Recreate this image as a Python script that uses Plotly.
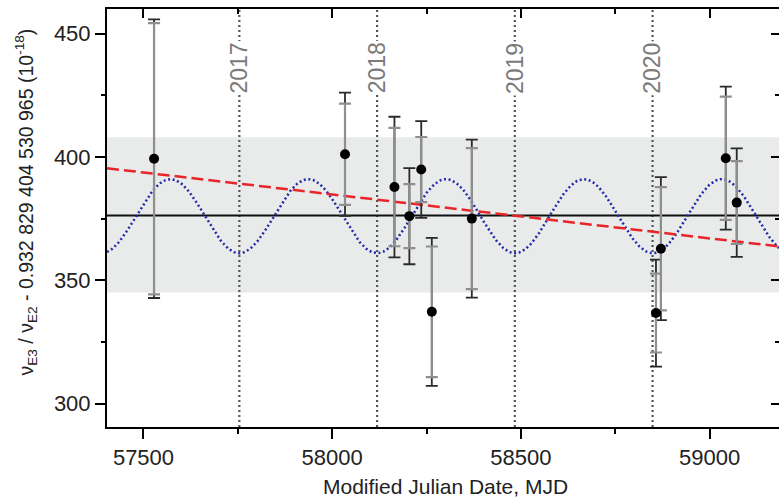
import numpy as np
import plotly.graph_objects as go

# Measurement epochs (MJD), frequency-ratio offsets (1e-18) and their uncertainties
mjd = [57528, 58034, 58165, 58204.5, 58236, 58264, 58370, 58858, 58871, 59043, 59072]
ratio = [399.3, 401.1, 387.8, 376.0, 394.9, 337.2, 375.0, 336.7, 362.8, 399.5, 381.5]
err_stat = [55.0, 20.5, 24.0, 13.0, 13.2, 26.5, 28.6, 16.0, 25.0, 25.0, 16.8]
err_total = [56.5, 25.0, 28.5, 19.5, 19.6, 30.0, 32.0, 21.7, 29.0, 29.0, 22.0]

# Weighted mean and its scatter band
mean_value = 376.3
band_low, band_high = 345.0, 408.0

# Annual modulation model (minimum at each new year)
mod_mean = 376.0
mod_amplitude = 15.0
mod_period = 365.25
mod_phase_mjd = 57754

# Linear drift model
drift_ref_mjd = 58500
drift_at_ref = 375.9
drift_slope = -0.0178  # per day

# Year boundaries
year_labels = ["2017", "2018", "2019", "2020"]
year_mjd = [57754, 58119, 58484, 58849]

x_range = [57403.3, 59184]
y_range = [290.5, 460]

t = np.linspace(x_range[0], x_range[1], 800)
modulation = mod_mean - mod_amplitude * np.cos(2 * np.pi * (t - mod_phase_mjd) / mod_period)
drift_x = [x_range[0], x_range[1]]
drift_y = [drift_at_ref + drift_slope * (x - drift_ref_mjd) for x in drift_x]

FONT = "Liberation Sans, Arial, sans-serif"
TXT = "#222222"

fig = go.Figure()

fig.add_trace(go.Scatter(x=t, y=modulation, mode="lines",
                         line=dict(color="#1f2ba8", width=2.5, dash="2px,2.6px"),
                         hoverinfo="skip", showlegend=False))
fig.add_trace(go.Scatter(x=drift_x, y=drift_y, mode="lines",
                         line=dict(color="#e8262a", width=2.5, dash="12px,5px"),
                         hoverinfo="skip", showlegend=False))

# Total uncertainty (dark caps)
fig.add_trace(go.Scatter(x=mjd, y=ratio, mode="markers",
                         marker=dict(size=1, color="rgba(0,0,0,0)"),
                         error_y=dict(type="data", array=err_total, visible=True,
                                      color="#2a2a2a", thickness=1.8, width=6),
                         showlegend=False))
# Statistical uncertainty (grey) and the points themselves
fig.add_trace(go.Scatter(x=mjd, y=ratio, mode="markers",
                         marker=dict(size=10, color="black"),
                         error_y=dict(type="data", array=err_stat, visible=True,
                                      color="#8f8f8f", thickness=2.2, width=6),
                         showlegend=False))

# Helper trace so the mirrored top/right axes are drawn
fig.add_trace(go.Scatter(x=[None], y=[None], xaxis="x2", yaxis="y2",
                         hoverinfo="skip", showlegend=False))

shapes = [
    dict(type="rect", xref="paper", yref="y", x0=0, x1=1, y0=band_low, y1=band_high,
         fillcolor="#e9eaea", line=dict(width=0), layer="below"),
]
for ym in year_mjd:
    shapes.append(dict(type="line", xref="x", yref="paper", x0=ym, x1=ym, y0=0, y1=1,
                       line=dict(color="#555555", width=2.2, dash="2px,3px"), layer="below"))
shapes.append(dict(type="line", xref="paper", yref="y", x0=0, x1=1, y0=mean_value, y1=mean_value,
                   line=dict(color="#111111", width=2), layer="below"))

annotations = []
for lab, ym in zip(year_labels, year_mjd):
    annotations.append(dict(x=ym, y=436, xref="x", yref="y", text=lab, textangle=-90,
                            showarrow=False, xanchor="center", yanchor="middle",
                            font=dict(family=FONT, size=23, color="#7b7b7b"),
                            bgcolor="white", borderpad=1))

annotations.append(dict(
    x=-0.1205, y=0.537, xref="paper", yref="paper", textangle=-90, showarrow=False,
    xanchor="center", yanchor="middle",
    text="ν<sub>E3</sub> / ν<sub>E2</sub> - 0.932 829 404 530 965 (10<sup>-18</sup>)",
    font=dict(family=FONT, size=19.5, color=TXT)))
annotations.append(dict(
    x=0.503, y=-0.143, xref="paper", yref="paper", showarrow=False,
    xanchor="center", yanchor="middle", text="Modified Julian Date, MJD",
    font=dict(family=FONT, size=21, color=TXT)))

axis_common = dict(showgrid=False, zeroline=False, linecolor="black", tickcolor="black")

fig.update_layout(
    width=779, height=498,
    margin=dict(l=107, r=0, t=9, b=71),
    plot_bgcolor="white", paper_bgcolor="white",
    font=dict(family=FONT, size=22, color=TXT),
    shapes=shapes, annotations=annotations,
    xaxis=dict(range=x_range, tickmode="linear", tick0=57500, dtick=500, tickformat="d",
               ticks="outside", ticklen=10, tickwidth=2, showline=True, linewidth=2,
               minor=dict(tick0=57500, dtick=250, ticks="outside", ticklen=5, tickwidth=2,
                          tickcolor="black"),
               tickfont=dict(family=FONT, size=22, color=TXT), **axis_common),
    yaxis=dict(range=y_range, tickmode="linear", tick0=300, dtick=50, tickformat="d",
               ticks="outside", ticklen=10, tickwidth=2, showline=True, linewidth=2,
               minor=dict(tick0=300, dtick=25, ticks="outside", ticklen=4, tickwidth=2,
                          tickcolor="black"),
               tickfont=dict(family=FONT, size=22, color=TXT), **axis_common),
    xaxis2=dict(range=x_range, overlaying="x", side="top", anchor="y2",
                tickmode="linear", tick0=57500, dtick=500, ticks="inside", ticklen=9,
                tickwidth=2, showline=True, linewidth=2, showticklabels=False,
                minor=dict(tick0=57500, dtick=250, ticks="inside", ticklen=5, tickwidth=2,
                           tickcolor="black"),
                **axis_common),
    yaxis2=dict(range=y_range, overlaying="y", side="right", anchor="x2",
                tickmode="linear", tick0=300, dtick=50, ticks="inside", ticklen=8,
                tickwidth=2, showline=False, showticklabels=False,
                minor=dict(tick0=300, dtick=25, ticks="inside", ticklen=4, tickwidth=2,
                           tickcolor="black"),
                **axis_common),
)

fig.write_html("out.html")
